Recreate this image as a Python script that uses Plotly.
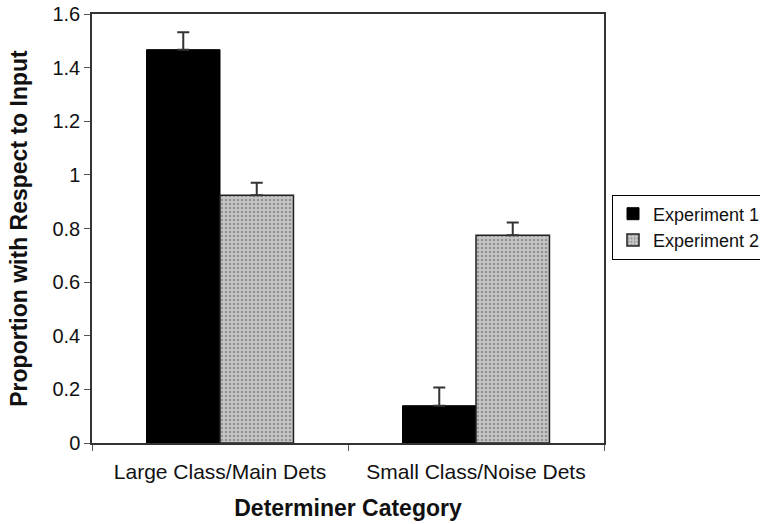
import plotly.graph_objects as go

# Determiner categories and the two experiments' proportions
categories = ["Large Class/Main Dets", "Small Class/Noise Dets"]
exp1_values = [1.467, 0.139]
exp1_errors = [0.065, 0.068]
exp2_values = [0.924, 0.775]
exp2_errors = [0.047, 0.047]
y_ticks = [0, 0.2, 0.4, 0.6, 0.8, 1.0, 1.2, 1.4, 1.6]
y_tick_text = ["0", "0.2", "0.4", "0.6", "0.8", "1", "1.2", "1.4", "1.6"]

FONT = "Liberation Sans, Arial, sans-serif"

fig = go.Figure()

fig.add_trace(go.Bar(
    name="Experiment 1",
    x=categories,
    y=exp1_values,
    marker=dict(color="#000000", line=dict(color="#000000", width=1)),
    error_y=dict(type="data", symmetric=False, array=exp1_errors,
                 arrayminus=[0, 0], color="#333333", thickness=2, width=6),
))

fig.add_trace(go.Bar(
    name="Experiment 2",
    x=categories,
    y=exp2_values,
    marker=dict(
        color="#bdbdbd",
        line=dict(color="#222222", width=1.5),
        pattern=dict(shape=".", fgcolor="#939393", bgcolor="#c6c6c6",
                     size=4, solidity=0.35, fillmode="replace"),
    ),
    error_y=dict(type="data", symmetric=False, array=exp2_errors,
                 arrayminus=[0, 0], color="#333333", thickness=2, width=6),
))

fig.update_layout(
    width=760,
    height=524,
    margin=dict(l=92, r=156, t=14, b=81, autoexpand=False),
    barmode="group",
    bargap=0.426,
    bargroupgap=0,
    plot_bgcolor="white",
    paper_bgcolor="white",
    font=dict(family=FONT, color="#111111", size=16),
    showlegend=True,
    legend=dict(
        xref="container", yref="container",
        x=612 / 760, y=1 - 227 / 524, xanchor="left", yanchor="middle",
        bordercolor="#000000", borderwidth=1,
        font=dict(family=FONT, size=18, color="#111111"),
        bgcolor="white",
        tracegroupgap=0,
    ),
    xaxis=dict(
        type="category",
        showline=True, linecolor="#333333", linewidth=1.5, mirror=True,
        ticks="outside", tickson="boundaries", ticklen=6,
        tickcolor="#555555", tickwidth=1,
        tickfont=dict(family=FONT, size=21, color="#111111"),
        ticklabelstandoff=9,
        title=dict(text="<b>Determiner Category</b>",
                   font=dict(family=FONT, size=23, color="#111111"),
                   standoff=18),
        showgrid=False,
    ),
    yaxis=dict(
        range=[0, 1.6],
        tickvals=y_ticks, ticktext=y_tick_text,
        showline=True, linecolor="#333333", linewidth=1.5, mirror=True,
        ticks="outside", ticklen=6, tickcolor="#555555", tickwidth=1,
        tickfont=dict(family=FONT, size=20, color="#111111"),
        title=dict(text="<b>Proportion with Respect to Input</b>",
                   font=dict(family=FONT, size=23, color="#111111"),
                   standoff=18),
        showgrid=False, zeroline=False,
    ),
)

fig.write_html("out.html")
